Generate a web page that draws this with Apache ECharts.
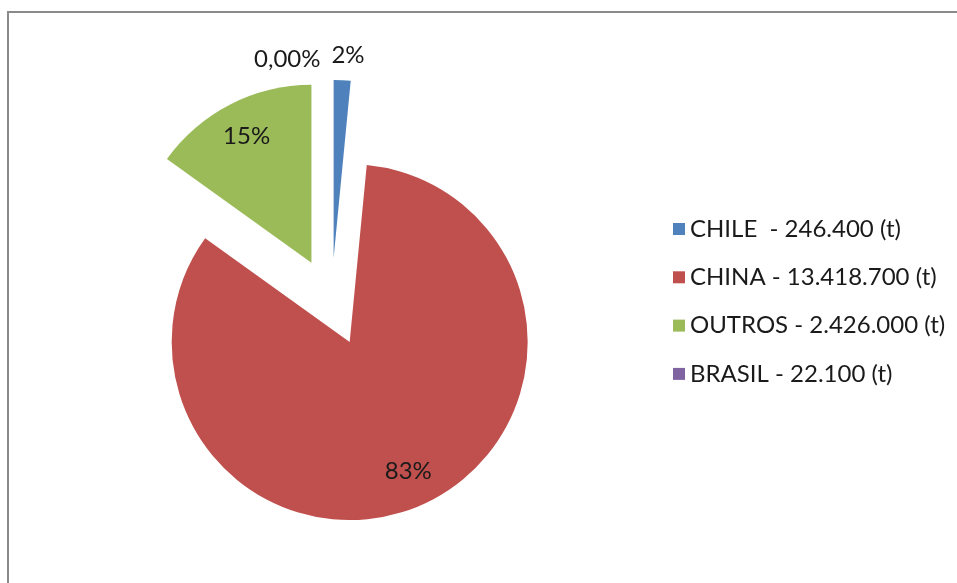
<!DOCTYPE html>
<html>
<head>
<meta charset="utf-8">
<script src="https://cdn.jsdelivr.net/npm/echarts@6/dist/echarts.min.js"></script>
<style>
  html, body { margin: 0; padding: 0; background: #ffffff; }
  #chart { width: 957px; height: 583px; }
</style>
</head>
<body>
<div id="chart"></div>
<script>
// Production by country, in tonnes
const countries = ['CHILE', 'CHINA', 'OUTROS', 'BRASIL'];
const tonnesText = ['246.400', '13.418.700', '2.426.000', '22.100'];
// Values plotted in the pie; BRASIL's slice is small enough that its share rounds to 0,00%
const sliceValues = [246400, 13418700, 2426000, 22.1];
const shareLabels = ['2%', '83%', '15%', '0,00%'];
const colors = ['#4F81BD', '#C0504D', '#9BBB59', '#8064A2'];

// Legend reads "NAME - value (t)"; CHILE carries a double space in its name
const legendText = {
  CHILE: 'CHILE  - ' + tonnesText[0] + ' (t)',
  CHINA: 'CHINA - ' + tonnesText[1] + ' (t)',
  OUTROS: 'OUTROS - ' + tonnesText[2] + ' (t)',
  BRASIL: 'BRASIL - ' + tonnesText[3] + ' (t)'
};

const FONT = 'Lato';
const FONT_SIZE = 24;
const TEXT_COLOR = '#1a1a1a';
const CENTER = [331.5, 302];
const R = 178;
const EXPLODE = 44;

// Small slices get their label above the pie, big ones inside
const outsideLabel = {
  CHILE: { length: 25, dist: -12, align: 'left' },
  BRASIL: { length: 21, dist: 11, align: 'right' }
};

const pieData = countries.map((name, i) => {
  const o = outsideLabel[name];
  return {
    name: name,
    value: sliceValues[i],
    selected: true,
    itemStyle: { color: colors[i] },
    label: o ? {
      show: true, position: 'outside', distanceToLabelLine: o.dist,
      align: o.align, formatter: shareLabels[i]
    } : { show: false },
    labelLine: o ? { show: false, length: o.length, length2: 0 } : { show: false }
  };
});

// Transparent ring carrying the in-slice percentages further out from the apex
const ringData = countries.map((name, i) => ({
  name: name,
  value: sliceValues[i],
  selected: true,
  label: outsideLabel[name] ? { show: false } : {
    show: true, position: 'inside', formatter: shareLabels[i]
  }
}));

const chart = echarts.init(document.getElementById('chart'), null, { renderer: 'canvas' });
chart.setOption({
  animation: false,
  backgroundColor: '#ffffff',
  graphic: [{
    type: 'rect',
    shape: { x: 8, y: 12, width: 1200, height: 1000 },
    style: { fill: 'none', stroke: '#8a8a8a', lineWidth: 2 },
    silent: true,
    z: -1
  }],
  legend: {
    orient: 'vertical',
    left: 668,
    top: 212,
    itemWidth: 12,
    itemHeight: 12,
    itemGap: 24.3,
    icon: 'rect',
    data: countries,
    formatter: name => legendText[name],
    textStyle: {
      fontFamily: FONT, fontSize: FONT_SIZE, lineHeight: 24,
      color: TEXT_COLOR, padding: [0, 0, 0, 0]
    },
    selectedMode: false
  },
  series: [{
    type: 'pie',
    center: CENTER,
    radius: R,
    startAngle: 90,
    clockwise: true,
    selectedMode: 'multiple',
    selectedOffset: EXPLODE,
    avoidLabelOverlap: false,
    minShowLabelAngle: -1,
    silent: true,
    label: { fontFamily: FONT, fontSize: FONT_SIZE, color: TEXT_COLOR },
    emphasis: { disabled: true },
    data: pieData
  }, {
    type: 'pie',
    center: CENTER,
    radius: [100, R],
    startAngle: 90,
    clockwise: true,
    selectedMode: 'multiple',
    selectedOffset: EXPLODE,
    avoidLabelOverlap: false,
    silent: true,
    legendHoverLink: false,
    itemStyle: { color: 'rgba(0,0,0,0)' },
    label: { fontFamily: FONT, fontSize: FONT_SIZE, color: TEXT_COLOR },
    labelLine: { show: false },
    emphasis: { disabled: true },
    data: ringData
  }]
});
</script>
</body>
</html>
